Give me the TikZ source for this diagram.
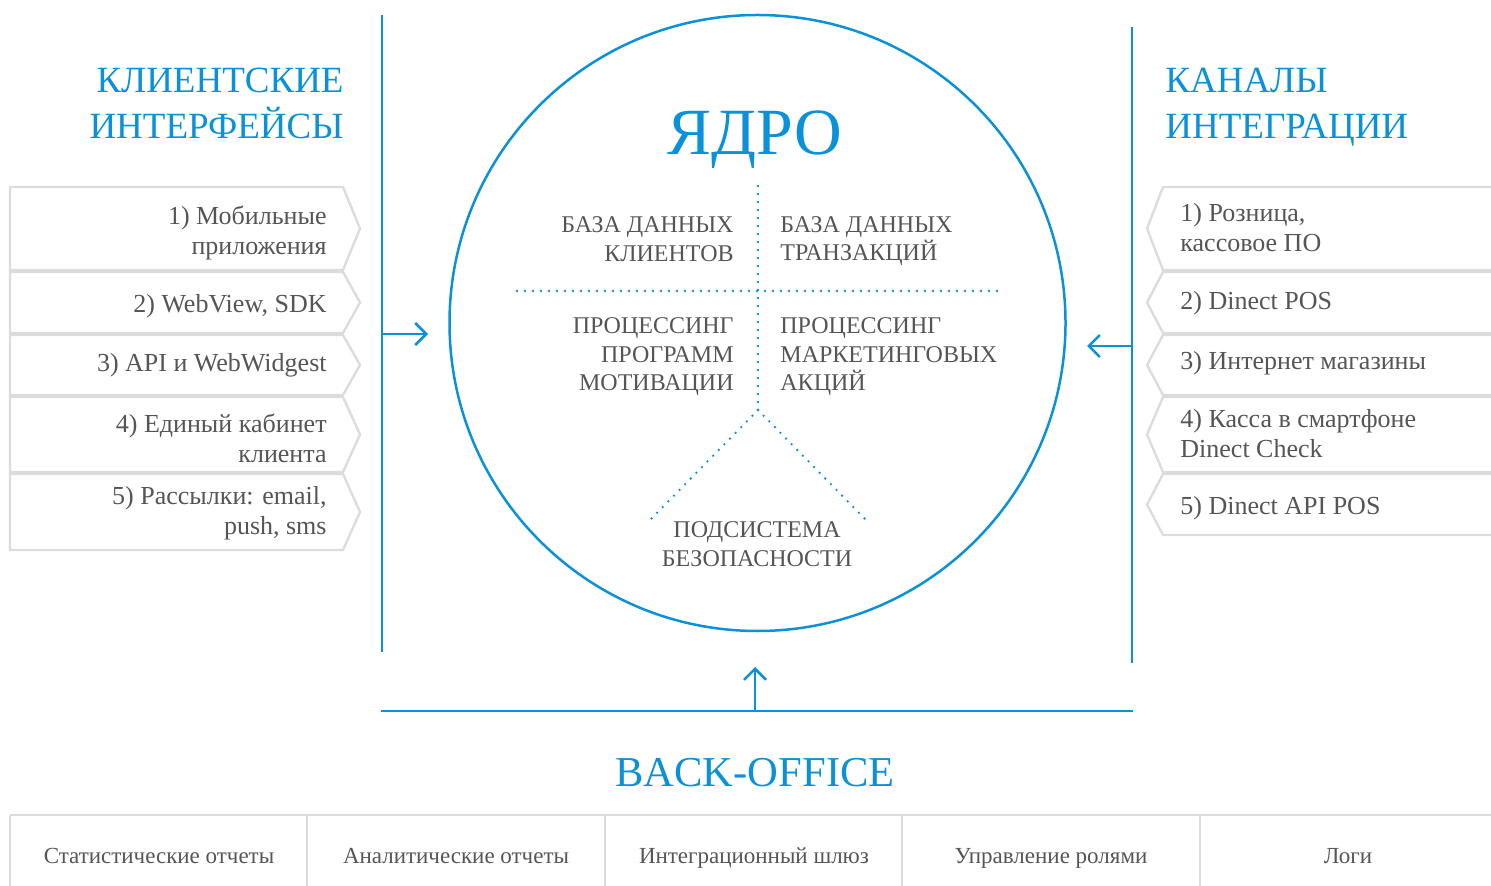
\documentclass[tikz,border=0pt]{standalone}
\usepackage{fontspec}
\setmainfont{Liberation Serif}
\usetikzlibrary{arrows.meta}
\definecolor{dblue}{HTML}{0B91D8}
\definecolor{dgray}{HTML}{555555}
\definecolor{lgray}{HTML}{DCDCDC}

\begin{document}
\begin{tikzpicture}[x=0.5pt, y=-0.5pt,
  blueline/.style={dblue, line width=1.25pt},
  boxline/.style={lgray, line width=1.2pt},
  dotline/.style={dblue, line width=1.3pt, line cap=round, dash pattern=on 0pt off 4pt},
  tip/.style={-{Straight Barb[length=5.5pt, width=11pt]}},
  item/.style={dgray, inner sep=0pt, font=\fontsize{13}{15}\selectfont},
  part/.style={dgray, inner sep=0pt, font=\fontsize{12}{14.3}\selectfont},
  head/.style={dblue, inner sep=0pt, font=\fontsize{18.5}{23}\selectfont},
  cell/.style={dgray, inner sep=0pt, anchor=base, font=\fontsize{11.5}{14}\selectfont}]
% Ядро, интерфейсы, каналы интеграции и back-office
\useasboundingbox (0,0) rectangle (1491,886);
\draw[blueline] (382,15) -- (382,652);
\draw[blueline] (1132,27) -- (1132,663);
\draw[blueline] (381,711) -- (1133,711);
\node[draw=dblue, line width=1.25pt, circle, minimum size=308pt, inner sep=0pt] (core) at (757.5,323) {};
\coordinate (leftin) at (382,334);
\coordinate (leftout) at (428,334);
\coordinate (rightin) at (1132,346);
\coordinate (rightout) at (1087,346);
\coordinate (backin) at (755,711);
\coordinate (backout) at (755,667);
\draw[blueline, tip] (leftin) -- (leftout);
\draw[blueline, tip] (rightin) -- (rightout);
\draw[blueline, tip] (backin) -- (backout);

\node[head, anchor=east, align=right] (clients) at (344,103) {КЛИЕНТСКИЕ\\ИНТЕРФЕЙСЫ};
\node[head, anchor=west, align=left] (channels) at (1165,107) {КАНАЛЫ\\ИНТЕГРАЦИИ};
\node[dblue, inner sep=0pt, anchor=base, font=\fontsize{33}{36}\selectfont] (title) at (755,155) {ЯДРО};
\node[dblue, inner sep=0pt, anchor=base, font=\fontsize{21.3}{24}\selectfont] (backoffice) at (755,786) {BACK-OFFICE};

% разбивка ядра
\draw[dotline] (758,186) -- (758,410);
\draw[dotline] (517,291) -- (998,291);
\draw[dotline] (758,410) -- (650,520);
\draw[dotline] (758,410) -- (866,520);
\node[part, anchor=east, align=right] (dbclients) at (734,239) {БАЗА ДАННЫХ\\КЛИЕНТОВ};
\node[part, anchor=west, align=left] (dbtrans) at (780,241) {БАЗА ДАННЫХ\\ТРАНЗАКЦИЙ};
\node[part, anchor=east, align=right] (loyalty) at (734,357) {ПРОЦЕССИНГ\\ПРОГРАММ\\МОТИВАЦИИ};
\node[part, anchor=west, align=left] (promo) at (780,357) {ПРОЦЕССИНГ\\МАРКЕТИНГОВЫХ\\АКЦИЙ};
\node[part, align=center] (security) at (757,544) {ПОДСИСТЕМА\\БЕЗОПАСНОСТИ};

% клиентские интерфейсы
\foreach \t/\b in {187/270, 272/333, 335/395, 397/472, 474/550}
  \draw[boxline] (10,\t) -- (343,\t) -- (360,{(\t+\b)/2}) -- (343,\b) -- (10,\b) -- cycle;
\node[item, anchor=east, align=right] (mobile) at (327,233) {1) Мобильные\\приложения};
\node[item, anchor=east, align=right] (webview) at (327,306) {2) WebView, SDK};
\node[item, anchor=east, align=right] (api) at (327,365) {3) API и WebWidgest};
\node[item, anchor=east, align=right] (cabinet) at (327,438) {4) Единый кабинет\\клиента};
\node[item, anchor=east, align=right] (mailing) at (327,513) {5) Рассылки: email,\\push, sms};

% каналы интеграции
\foreach \t/\b in {187/270, 272/333, 335/395, 397/472, 474/535}
  \draw[boxline] (1491,\t) -- (1163,\t) -- (1147,{(\t+\b)/2}) -- (1163,\b) -- (1491,\b);
\node[item, anchor=west, align=left] (retail) at (1180,228) {1) Розница,\\кассовое ПО};
\node[item, anchor=west, align=left] (pos) at (1180,303) {2) Dinect POS};
\node[item, anchor=west, align=left] (shops) at (1180,363) {3) Интернет магазины};
\node[item, anchor=west, align=left] (check) at (1180,434) {4) Касса в смартфоне\\Dinect Check};
\node[item, anchor=west, align=left] (apipos) at (1180,508) {5) Dinect API POS};

% back-office
\draw[boxline] (10,815) -- (1491,815);
\foreach \x in {10,307,605,902,1200}
  \draw[boxline] (\x,815) -- (\x,886);
\node[cell] (stats) at (159,863) {Статистические отчеты};
\node[cell] (analytics) at (456,863) {Аналитические отчеты};
\node[cell] (gateway) at (754,863) {Интеграционный шлюз};
\node[cell] (roles) at (1051,863) {Управление ролями};
\node[cell] (logs) at (1348,863) {Логи};
\end{tikzpicture}
\end{document}
